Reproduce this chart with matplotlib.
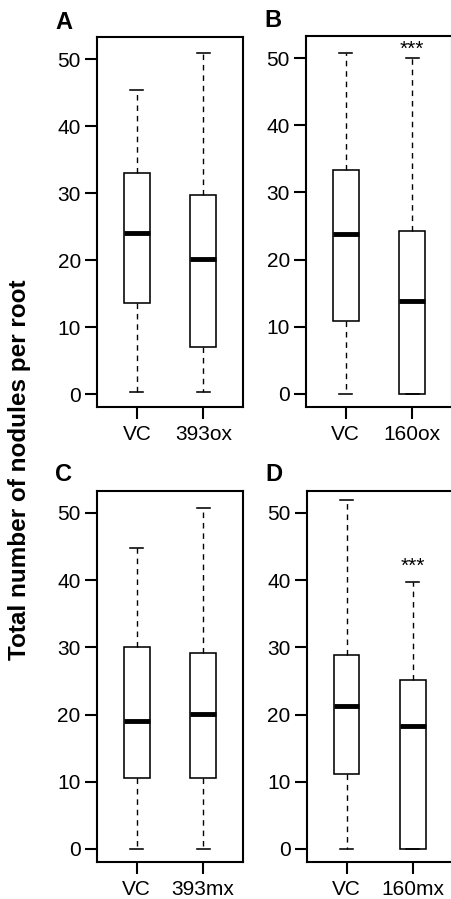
import numpy as np
import matplotlib.pyplot as plt

plt.rcParams['font.family'] = ['Liberation Sans', 'DejaVu Sans']

# five-number summaries: whislo, q1, med, q3, whishi
groups_A = ['VC', '393ox']
stats_A = [[0.4, 13.6, 24.1, 33.1, 45.4],
           [0.4, 7.1, 20.2, 29.7, 51.0]]
groups_B = ['VC', '160ox']
stats_B = [[0.0, 10.9, 23.8, 33.3, 50.8],
           [0.0, 0.0, 13.9, 24.2, 50.0]]
groups_C = ['VC', '393mx']
stats_C = [[0.0, 10.6, 19.0, 30.1, 44.8],
           [0.0, 10.6, 20.1, 29.1, 50.7]]
groups_D = ['VC', '160mx']
stats_D = [[0.0, 11.2, 21.2, 28.9, 51.9],
           [0.0, 0.0, 18.3, 25.2, 39.7]]
signif_B = ['', '***']
signif_D = ['', '***']
yticks = [0, 10, 20, 30, 40, 50]

W, H = 451, 899
fig = plt.figure(figsize=(W / 100, H / 100), dpi=100)


def draw_panel(rect, groups, stats, signif, star_off, letter, letter_xy):
    ax = fig.add_axes([rect[0] / W, 1 - rect[3] / H, (rect[2] - rect[0]) / W, (rect[3] - rect[1]) / H])
    bxp_stats = []
    for name, s in zip(groups, stats):
        bxp_stats.append(dict(label=name, whislo=s[0], q1=s[1], med=s[2], q3=s[3], whishi=s[4], fliers=[]))
    ax.bxp(bxp_stats, positions=[1, 2], widths=0.39, showfliers=False, patch_artist=True,
           boxprops=dict(facecolor='white', edgecolor='black', linewidth=1.15),
           medianprops=dict(color='black', linewidth=3.5, solid_capstyle='butt'),
           whiskerprops=dict(color='black', linewidth=1.0, linestyle=(0, (4, 3.5))),
           capprops=dict(color='black', linewidth=1.15), capwidths=0.195)
    for i, (s, txt) in enumerate(zip(stats, signif)):
        if txt:
            ax.annotate(txt, (i + 1, s[4]), xytext=(0, star_off), textcoords='offset points',
                        ha='center', va='center', fontsize=15)
    ax.set_xlim(0.4, 2.6)
    ax.set_ylim(-1.9, 53.3)
    ax.set_yticks(yticks)
    ax.set_xticks([1, 2])
    ax.set_xticklabels(groups)
    for sp in ax.spines.values():
        sp.set_linewidth(1.5)
    ax.tick_params(axis='both', length=8.5, width=1.5, labelsize=15)
    ax.tick_params(axis='x', pad=4.5)
    ax.tick_params(axis='y', pad=3)
    fig.text(letter_xy[0] / W, 1 - letter_xy[1] / H, letter, fontsize=17, fontweight='bold',
             ha='left', va='baseline')
    return ax


draw_panel((97, 37.3, 243.3, 407), groups_A, stats_A, ['', ''], 0, 'A', (55, 29))
draw_panel((306, 36, 452, 406.7), groups_B, stats_B, signif_B, 6, 'B', (264, 27))
draw_panel((96.7, 490.7, 243, 861.7), groups_C, stats_C, ['', ''], 0, 'C', (55, 481))
draw_panel((306.7, 490.7, 452.7, 861.7), groups_D, stats_D, signif_D, 11, 'D', (265, 481))

fig.text(20 / W, 1 - 470 / H, 'Total number of nodules per root', rotation=90,
         fontsize=17.5, fontweight='bold', ha='center', va='center')

fig.savefig('out.png', dpi=100)
